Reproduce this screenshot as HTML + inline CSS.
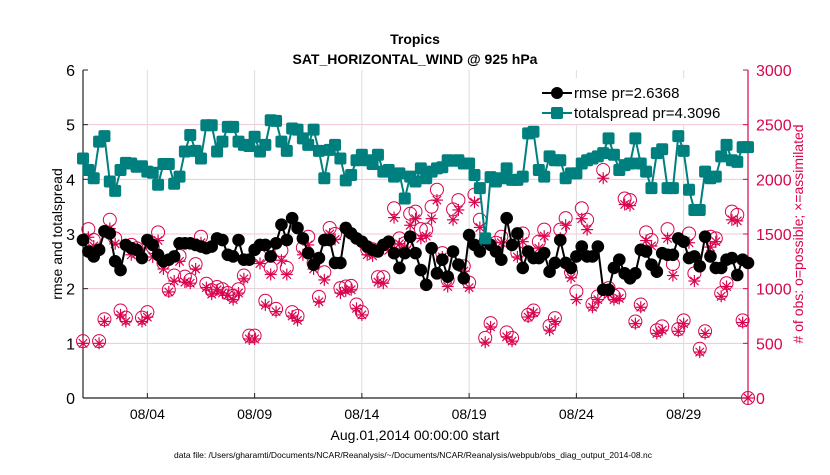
<!DOCTYPE html>
<html><head><meta charset="utf-8"><style>
html,body{margin:0;padding:0;background:#fff;}
svg text{font-family:"Liberation Sans",Arial,sans-serif;}
</style></head>
<body>
<svg id="chart" width="830" height="470" xmlns="http://www.w3.org/2000/svg">
<rect width="830" height="470" fill="#fff"/>
<text x="415" y="44" text-anchor="middle" font-size="14" font-weight="bold">Tropics</text>
<text x="415" y="64" text-anchor="middle" font-size="14" font-weight="bold">SAT_HORIZONTAL_WIND @ 925 hPa</text>
<g id="grid"></g>
<g id="axes"></g>
<g id="series"></g>
<g id="legend">
  <rect x="530" y="78" width="212" height="46" fill="#fff"/>
  <line x1="542" y1="93" x2="572" y2="93" stroke="#000" stroke-width="2"/>
  <circle cx="557" cy="93" r="6" fill="#000"/>
  <text x="574" y="98" font-size="15">rmse pr=2.6368</text>
  <line x1="542" y1="113" x2="572" y2="113" stroke="#007f7f" stroke-width="2"/>
  <rect x="551" y="107" width="12" height="12" rx="2" fill="#007f7f"/>
  <text x="574" y="118" font-size="15">totalspread pr=4.3096</text>
</g>
<text transform="translate(62,234) rotate(-90)" text-anchor="middle" font-size="14">rmse and totalspread</text>
<text transform="translate(803,234) rotate(-90)" text-anchor="middle" font-size="14" fill="#d9044f"># of obs: o=possible; ×=assimilated</text>
<text x="415" y="440" text-anchor="middle" font-size="14">Aug.01,2014 00:00:00 start</text>
<text x="413" y="458" text-anchor="middle" font-size="8.5">data file: /Users/gharamti/Documents/NCAR/Reanalysis/~/Documents/NCAR/Reanalysis/webpub/obs_diag_output_2014-08.nc</text>
</svg>
<script>
const rmse=[2.89,2.68,2.59,2.71,3.05,3.01,2.5,2.34,2.8,2.74,2.71,2.56,2.89,2.8,2.62,2.5,2.53,2.59,2.83,2.83,2.83,2.8,2.77,2.74,2.77,2.92,2.89,2.62,2.59,2.89,2.53,2.53,2.71,2.8,2.8,2.59,2.83,3.17,2.89,3.29,3.11,2.92,2.65,2.44,2.56,2.89,2.89,2.47,2.47,3.11,3.01,2.92,2.86,2.77,2.71,2.68,2.8,2.86,2.65,2.38,2.65,2.95,2.65,2.34,2.07,2.74,2.28,2.53,2.22,2.68,2.44,2.19,2.98,2.8,2.68,2.89,2.8,2.68,2.53,3.29,2.8,3.01,2.38,2.68,2.56,2.56,2.65,2.31,2.47,2.89,2.47,2.38,2.59,2.77,2.59,2.59,2.77,1.98,1.98,2.38,2.53,2.28,2.19,2.28,2.71,2.68,2.44,2.31,2.65,2.62,2.62,2.92,2.86,2.56,2.59,2.41,2.95,2.59,2.38,2.38,2.53,2.56,2.25,2.53,2.47];
const totalspread=[4.38,4.17,4.02,4.69,4.79,3.96,3.79,4.17,4.3,4.29,4.23,4.24,4.14,4.12,3.9,4.28,4.28,3.92,4.05,4.51,4.81,4.52,4.38,4.99,4.99,4.51,4.69,4.96,4.96,4.69,4.63,4.61,4.78,4.51,4.63,5.08,5.07,4.69,4.52,4.93,4.91,4.75,4.63,4.91,4.52,4.02,4.54,4.63,4.38,3.98,4.08,4.35,4.45,4.35,4.28,4.45,4.14,4.17,4.05,4.11,3.65,4.05,3.96,4.2,4.02,4.14,4.2,4.22,4.35,4.34,4.35,4.29,4.29,4.08,3.84,2.92,4.04,3.96,4.02,4.2,3.99,3.99,4.05,4.84,4.87,4.17,4.05,4.42,4.35,4.35,4.02,4.11,4.11,4.29,4.35,4.38,4.42,4.48,4.75,4.45,4.17,4.26,4.29,4.75,4.29,4.14,3.84,4.48,4.55,3.84,3.84,4.79,4.52,3.81,3.44,3.44,4.14,4.02,4.05,4.42,4.63,4.35,4.32,4.59,4.59];
const obsPossible=[520,1545,1445,520,720,1630,1460,800,735,1400,1370,735,785,1380,1515,1235,990,1120,1300,1110,1080,1225,1475,1045,985,1015,995,960,935,995,1120,570,570,1295,890,1190,815,1350,1190,785,750,1375,1475,1235,925,1150,1555,1500,1005,1020,1025,855,785,1360,1360,1105,1105,1415,1735,1460,1415,1685,1705,1545,1540,1750,1905,1325,1080,1725,1810,1205,1055,1860,1630,550,685,1420,1475,600,550,1330,1505,760,800,1430,1540,660,730,1540,1645,1150,975,1735,1630,860,930,2085,1005,935,945,1825,1810,700,855,1515,1445,620,655,1545,1225,630,710,1505,1140,450,610,1475,1460,960,1050,1705,1675,710,0];
const obsAssim=[500,1470,1390,500,700,1550,1410,760,700,1310,1320,700,740,1290,1440,1180,970,1070,1250,1060,1050,1180,1420,1010,950,990,960,940,900,960,1090,540,540,1230,850,1130,790,1260,1130,750,710,1310,1400,1180,880,1080,1500,1450,960,980,990,820,760,1310,1300,1060,1050,1350,1650,1410,1380,1580,1640,1460,1480,1640,1810,1290,1020,1630,1720,1160,1010,1790,1560,510,650,1350,1420,560,520,1290,1430,740,780,1370,1480,620,700,1460,1580,1100,900,1640,1540,830,900,2010,950,900,910,1770,1760,680,830,1440,1390,590,620,1460,1120,610,680,1420,1070,420,590,1380,1430,930,1020,1630,1620,690,0];
const leftTicks=[0,1,2,3,4,5,6];
const rightTicks=[0,500,1000,1500,2000,2500,3000];
const xTickDays=[3,8,13,18,23,28];
const xTickLabels=["08/04","08/09","08/14","08/19","08/24","08/29"];
const stepDays=0.25;

const X0=83,X1=748,Y0=398,Y1=70,DAYS=31;
const NS="http://www.w3.org/2000/svg";
const xs=d=>X0+(d/DAYS)*(X1-X0);
const yl=v=>Y0-(v/6)*(Y0-Y1);
const yr=v=>Y0-(v/3000)*(Y0-Y1);
function mk(tag,attrs,parent){const e=document.createElementNS(NS,tag);for(const k in attrs)e.setAttribute(k,attrs[k]);parent.appendChild(e);return e;}
const grid=document.getElementById('grid'),axes=document.getElementById('axes'),ser=document.getElementById('series');
const crim="#d9044f";
rightTicks.forEach(t=>{if(t>0&&t<3000){const l=mk('line',{x1:X0,x2:X1,y1:yr(t),y2:yr(t),stroke:"#f3c6d6","stroke-width":1},grid);

}});
xTickDays.forEach((d,i)=>{const l=mk('line',{x1:xs(d),x2:xs(d),y1:Y1,y2:Y0,stroke:"#dcdcdc","stroke-width":1},grid);


const t=mk('text',{x:xs(d),y:Y0+21,"text-anchor":"middle","font-size":14},axes);t.textContent=xTickLabels[i];


mk('line',{x1:xs(d),x2:xs(d),y1:Y0,y2:Y0-5,stroke:"#222"},axes);});
mk('line',{x1:X0,x2:X1,y1:Y0,y2:Y0,stroke:"#222","stroke-width":1.2},axes);
mk('line',{x1:X0,x2:X0,y1:Y1,y2:Y0,stroke:"#222","stroke-width":1.2},axes);
mk('line',{x1:X1,x2:X1,y1:Y1,y2:Y0,stroke:crim,"stroke-width":1.2},axes);
leftTicks.forEach(v=>{const t=mk('text',{x:X0-8,y:yl(v)+6,"text-anchor":"end","font-size":16},axes);t.textContent=v;


mk('line',{x1:X0,x2:X0+5,y1:yl(v),y2:yl(v),stroke:"#222"},axes);});
rightTicks.forEach(v=>{const t=mk('text',{x:X1+8,y:yr(v)+6,"font-size":16,fill:crim},axes);t.textContent=v;


mk('line',{x1:X1-5,x2:X1,y1:yr(v),y2:yr(v),stroke:crim},axes);});

obsPossible.forEach((v,i)=>{const c=mk('circle',{cx:xs(i*stepDays),cy:yr(v),r:6.5,fill:"none",stroke:crim,"stroke-width":1},ser);

});
obsAssim.forEach((v,i)=>{const x=xs(i*stepDays),y=yr(v),r=6;
const g=mk('g',{stroke:crim,"stroke-width":1.2},ser);


mk('line',{x1:x-r,x2:x+r,y1:y,y2:y},g);mk('line',{x1:x,x2:x,y1:y-r,y2:y+r},g);
mk('line',{x1:x-r*0.7,x2:x+r*0.7,y1:y-r*0.7,y2:y+r*0.7},g);mk('line',{x1:x-r*0.7,x2:x+r*0.7,y1:y+r*0.7,y2:y-r*0.7},g);});
const rp=mk('polyline',{points:rmse.map((v,i)=>xs(i*stepDays)+","+yl(v)).join(" "),fill:"none",stroke:"#000","stroke-width":2},ser);


rmse.forEach((v,i)=>{const c=mk('circle',{cx:xs(i*stepDays),cy:yl(v),r:6.3,fill:"#000"},ser);

});
const tp=mk('polyline',{points:totalspread.map((v,i)=>xs(i*stepDays)+","+yl(v)).join(" "),fill:"none",stroke:"#007f7f","stroke-width":2},ser);


totalspread.forEach((v,i)=>{const s=mk('rect',{x:xs(i*stepDays)-6,y:yl(v)-6,width:12,height:12,rx:2,fill:"#007f7f"},ser);

});
</script>
</body></html>
